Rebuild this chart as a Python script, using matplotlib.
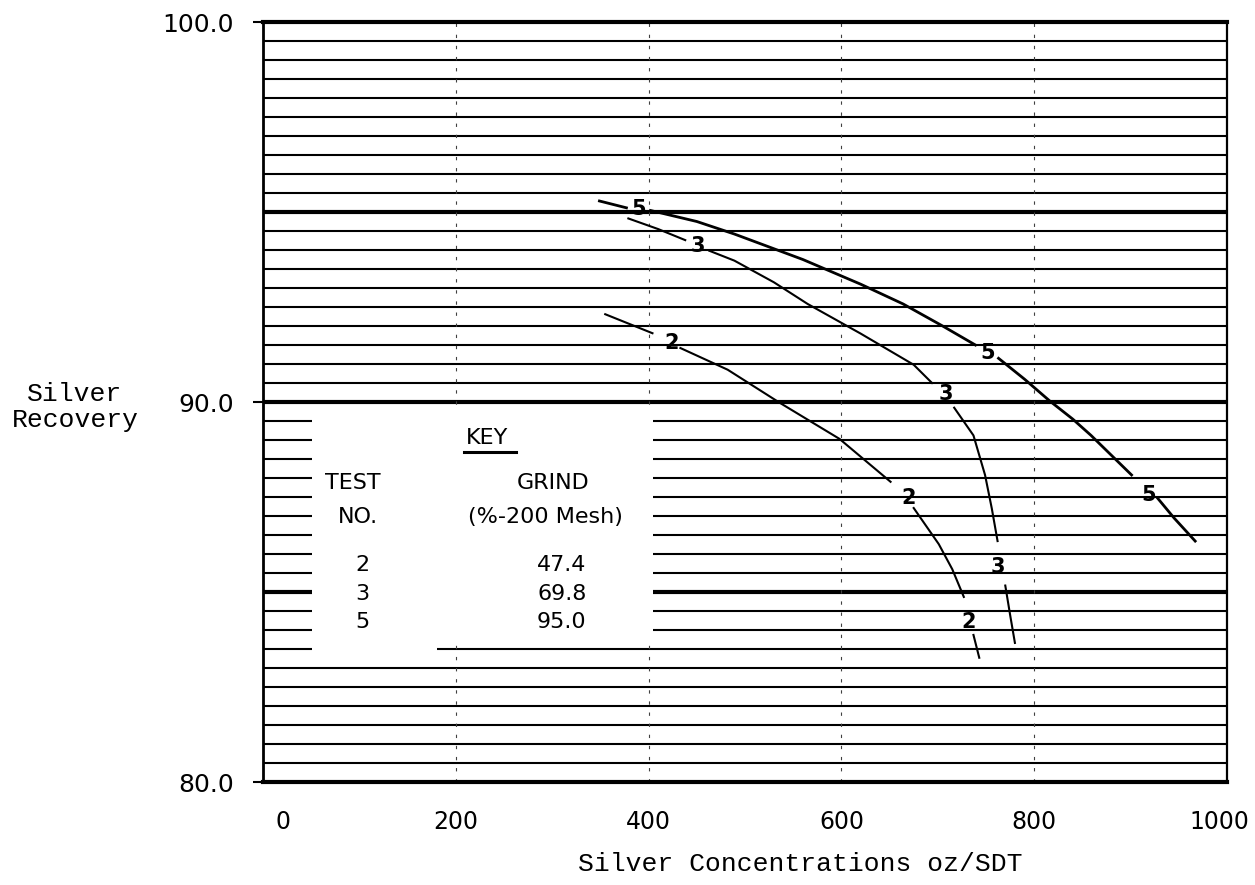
import matplotlib
matplotlib.use("Agg")
from matplotlib import pyplot as plt
from matplotlib.patches import Rectangle
from matplotlib.transforms import ScaledTranslation
import numpy as np

# x ticks / y ticks
x_ticks = [0, 200, 400, 600, 800, 1000]
x_tick_labels = ["0", "200", "400", "600", "800", "1000"]
y_ticks = [80, 90, 100]
y_tick_labels = ["80.0", "90.0", "100.0"]

# curve pieces (x = oz/SDT, y = % recovery), broken at the labels
test2_x = [[355, 404], [433, 482, 536, 598, 651], [675, 701, 715, 727], [737, 743]]
test2_y = [[92.31, 91.81], [91.42, 90.85, 89.98, 89.03, 87.90], [87.21, 86.26, 85.60, 84.87], [83.87, 83.27]]
test2_lab_x = [424, 670, 732]
test2_lab_y = [91.55, 87.47, 84.22]

test3_x = [[379, 410, 438], [463, 489, 530, 565, 620, 675, 694], [717, 737, 749, 756, 762], [770, 775, 780]]
test3_y = [[94.83, 94.55, 94.26], [93.98, 93.72, 93.15, 92.58, 91.80, 90.98, 90.50],
           [89.85, 89.12, 88.08, 87.20, 86.34], [85.17, 84.40, 83.66]]
test3_lab_x = [451, 708, 762]
test3_lab_y = [94.11, 90.20, 85.65]

test5_x = [[349, 377], [402, 450, 489, 560, 620, 664, 705, 739], [763, 790, 816, 840, 859, 880, 901], [928, 945, 967]]
test5_y = [[95.29, 95.11], [95.04, 94.75, 94.42, 93.75, 93.10, 92.58, 92.00, 91.50],
           [91.15, 90.60, 90.03, 89.55, 89.12, 88.60, 88.08], [87.47, 86.95, 86.34]]
test5_lab_x = [390, 752, 919]
test5_lab_y = [95.07, 91.28, 87.56]

key_tests = ["2", "3", "5"]
key_grind = ["47.4", "69.8", "95.0"]

fig = plt.figure(figsize=(12.55, 8.85), dpi=100)
ax = fig.add_axes([263/1255, 1 - 782/885, (1227-263)/1255, (782-22)/885])
ax.set_xlim(0, 1000)
ax.set_ylim(80, 100)

# ruled horizontal lines every 0.5, heavy at every 5
for yv in np.arange(80.5, 100, 0.5):
    heavy = abs(yv - round(yv / 5) * 5) < 1e-6
    ax.axhline(yv, color="black", lw=3.0 if heavy else 1.5, zorder=1)

for xv in [200, 400, 600, 800]:
    ax.axvline(xv, color="0.25", lw=0.8, ls=(0, (3, 7)), zorder=1)

for side in ["top", "bottom"]:
    ax.spines[side].set_linewidth(3.0)
ax.spines["left"].set_linewidth(2.0)
ax.spines["right"].set_linewidth(1.6)

# white key panel
ax.add_patch(Rectangle((51, 83.6), 354, 6.33, facecolor="white", edgecolor="none", zorder=2))
ax.add_patch(Rectangle((51, 83.3), 129, 0.35, facecolor="white", edgecolor="none", zorder=2))

curves = [(test2_x, test2_y, test2_lab_x, test2_lab_y, "2", 1.5),
          (test3_x, test3_y, test3_lab_x, test3_lab_y, "3", 1.5),
          (test5_x, test5_y, test5_lab_x, test5_lab_y, "5", 2.0)]
for xs, ys, lx, ly, name, lw in curves:
    for sx, sy in zip(xs, ys):
        ax.plot(sx, sy, color="black", lw=lw, zorder=3)
    for tx, ty in zip(lx, ly):
        ax.text(tx, ty, name, fontsize=15, fontweight="bold", ha="center", va="center",
                color="black", zorder=4)

# key text
kw = dict(fontsize=16, ha="center", va="center", color="black", zorder=4)
ax.text(232, 89.05, "KEY", **kw)
ax.plot([208, 262], [88.68, 88.68], color="black", lw=2.2, zorder=4)
ax.text(93, 87.87, "TEST", **kw)
ax.text(98, 86.97, "NO.", **kw)
ax.text(301, 87.87, "GRIND", **kw)
ax.text(293, 86.97, "(%-200 Mesh)", **kw)
for i, (t, g) in enumerate(zip(key_tests, key_grind)):
    yy = 85.7 - i * 0.75
    ax.text(103, yy, t, **kw)
    ax.text(310, yy, g, **kw)

ax.set_xticks(x_ticks)
ax.set_xticklabels(x_tick_labels, fontsize=17)
ax.set_yticks(y_ticks)
ax.set_yticklabels(y_tick_labels, fontsize=18)
ax.tick_params(axis="x", length=0, pad=20)
ax.tick_params(axis="y", length=7, width=1.5, pad=14)
xlabs = ax.get_xticklabels()
xlabs[0].set_transform(xlabs[0].get_transform() + ScaledTranslation(0.2, 0, fig.dpi_scale_trans))
xlabs[-1].set_transform(xlabs[-1].get_transform() + ScaledTranslation(-0.08, 0, fig.dpi_scale_trans))

fig.text(800/1255, 1 - 864/885, "Silver Concentrations oz/SDT", family="Liberation Mono",
         fontsize=19, ha="center", va="center")
fig.text(75/1255, 1 - 407/885, "Silver\nRecovery", family="Liberation Mono",
         fontsize=19, ha="center", va="center", linespacing=1.1)

fig.savefig("out.png", dpi=100)
